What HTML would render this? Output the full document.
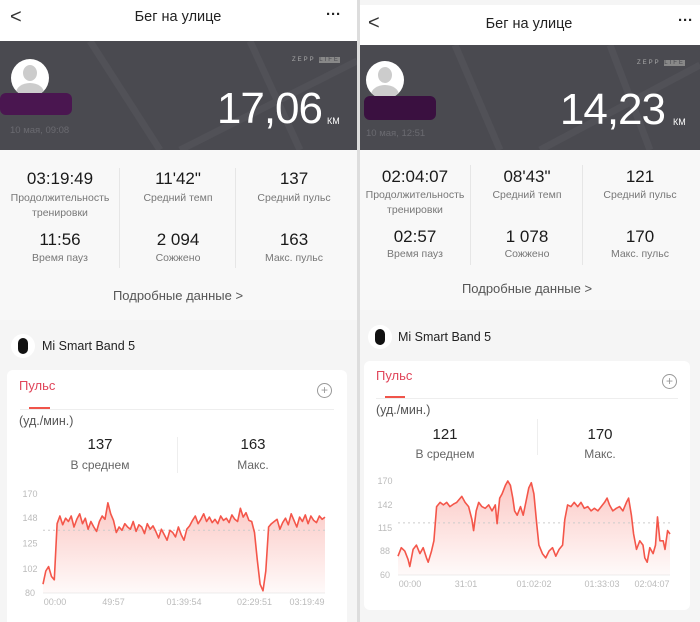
<!DOCTYPE html>
<html><head><meta charset="utf-8">
<style>
*{margin:0;padding:0;box-sizing:border-box}
body{width:700px;height:622px;overflow:hidden;background:#f3f3f3;font-family:"Liberation Sans","DejaVu Sans",sans-serif;position:relative;color:#222}
.abs{position:absolute}
.panel{position:absolute;top:0;height:622px;background:#f5f5f5;overflow:hidden}
.hdr{position:absolute;left:0;right:0;background:#fff}
.c{text-align:center;transform:translateX(-50%);white-space:nowrap}
.val{font-size:17px;color:#1a1a1a}
.lbl{font-size:10.5px;color:#777;line-height:15px}
.banner{position:absolute;left:0;right:0;background:#4a4a50;overflow:hidden}
.card{position:absolute;background:#fff;border-radius:6px}
.zoomb{width:15px;height:15px;border:1.5px solid #999;border-radius:50%;font-size:12px;line-height:12px;text-align:center;color:#999}
</style></head><body>
<div class="panel" style="left:0;width:357px">
  <div class="hdr" style="top:0;height:41px">
    <div class="abs" style="left:10px;top:6px;font-size:20px;color:#333">&lt;</div>
    <div class="abs c" style="left:178px;top:9px;font-size:14.5px">Бег на улице</div>
    <div class="abs" style="left:326px;top:6px;font-size:15px;font-weight:bold">···</div>
  </div>
  <div class="banner" style="top:41px;height:109px">
    <svg class="abs" style="left:0;top:0" width="357" height="109"><g stroke="#515157" stroke-width="7" fill="none"><line x1="90" y1="0" x2="160" y2="109"/><line x1="180" y1="109" x2="357" y2="20"/><line x1="250" y1="0" x2="300" y2="109"/></g></svg>
    <div class="abs" style="left:11px;top:18px;width:38px;height:38px;border-radius:50%;background:#fff;overflow:hidden"><div class="abs" style="left:12px;top:6px;width:14px;height:16px;border-radius:50%;background:#ccc"></div><div class="abs" style="left:5px;top:24px;width:28px;height:20px;border-radius:50%;background:#ccc"></div></div>
    <div class="abs" style="left:0;top:52px;width:72px;height:22px;background:#4a1650;border-radius:6px"></div>
    <div class="abs" style="left:10px;top:84px;font-size:9.5px;color:#6a6a70">10 мая, 09:08</div>
    <div class="abs" style="left:292px;top:16px;font-size:6px;color:#aaa;letter-spacing:2px">ZEPP <span style="background:#888;color:#4a4a50">LIFE</span></div>
    <div class="abs" style="right:35px;top:43px;font-size:44px;color:#fff;letter-spacing:-1px">17,06</div>
    <div class="abs" style="left:327px;top:75px;font-size:9px;color:#fff">КМ</div>
  </div>
  <div class="abs" style="left:0;top:150px;width:357px;height:170px;background:#f8f8f8"></div>
  <div class="abs" style="left:119px;top:168px;width:1px;height:100px;background:#e6e6e6"></div>
  <div class="abs" style="left:235px;top:168px;width:1px;height:100px;background:#e6e6e6"></div>
  <div class="abs c val" style="left:60px;top:169px">03:19:49</div>
  <div class="abs c lbl" style="left:60px;top:191px">Продолжительность<br>тренировки</div>
  <div class="abs c val" style="left:178px;top:169px">11'42"</div>
  <div class="abs c lbl" style="left:178px;top:191px">Средний темп</div>
  <div class="abs c val" style="left:294px;top:169px">137</div>
  <div class="abs c lbl" style="left:294px;top:191px">Средний пульс</div>
  <div class="abs c val" style="left:60px;top:230px">11:56</div>
  <div class="abs c lbl" style="left:60px;top:251px">Время пауз</div>
  <div class="abs c val" style="left:178px;top:230px">2 094</div>
  <div class="abs c lbl" style="left:178px;top:251px">Сожжено</div>
  <div class="abs c val" style="left:294px;top:230px">163</div>
  <div class="abs c lbl" style="left:294px;top:251px">Макс. пульс</div>
  <div class="abs c" style="left:178px;top:288px;font-size:13px;color:#555">Подробные данные &gt;</div>
  <div class="abs" style="left:11px;top:334px;width:24px;height:24px;border-radius:50%;background:#fff"><div class="abs" style="left:7px;top:4px;width:10px;height:16px;border-radius:5px;background:#111"></div></div>
  <div class="abs" style="left:42px;top:339px;font-size:12.5px">Mi Smart Band 5</div>
  <div class="card" style="left:7px;top:370px;width:340px;height:260px">
    <div class="abs" style="left:12px;top:8px;font-size:13px;color:#e0455a">Пульс</div>
    <div class="abs" style="left:13px;top:39px;width:314px;height:1px;background:#eee"></div>
    <div class="abs" style="left:22px;top:37px;width:21px;height:2px;background:#f0544a"></div>
    <div class="abs zoomb" style="left:310px;top:13px">+</div>
    <div class="abs" style="left:12px;top:44px;font-size:12.5px;color:#555">(уд./мин.)</div>
    <div class="abs" style="left:170px;top:67px;width:1px;height:36px;background:#eee"></div>
    <div class="abs c" style="left:93px;top:66px;font-size:15px">137</div>
    <div class="abs c" style="left:93px;top:88px;font-size:12px;color:#666">В среднем</div>
    <div class="abs c" style="left:246px;top:66px;font-size:15px">163</div>
    <div class="abs c" style="left:246px;top:88px;font-size:12px;color:#666">Макс.</div>
  </div>
  <svg id="chartL" class="abs" style="left:0;top:0" width="357" height="622"></svg>
</div>
<div class="abs" style="left:357px;top:0;width:3px;height:622px;background:#ddd"></div>
<div class="panel" style="left:360px;width:340px">
  <div class="hdr" style="top:5px;height:40px">
    <div class="abs" style="left:8px;top:7px;font-size:20px;color:#333">&lt;</div>
    <div class="abs c" style="left:169px;top:11px;font-size:14.5px">Бег на улице</div>
    <div class="abs" style="left:318px;top:7px;font-size:15px;font-weight:bold">···</div>
  </div>
  <div class="banner" style="top:45px;height:105px">
    <svg class="abs" style="left:0;top:0" width="340" height="105"><g stroke="#515157" stroke-width="7" fill="none"><line x1="95" y1="0" x2="140" y2="105"/><line x1="180" y1="105" x2="340" y2="20"/><line x1="250" y1="0" x2="290" y2="105"/></g></svg>
    <div class="abs" style="left:6px;top:16px;width:38px;height:38px;border-radius:50%;background:#fff;overflow:hidden"><div class="abs" style="left:12px;top:6px;width:14px;height:16px;border-radius:50%;background:#ccc"></div><div class="abs" style="left:5px;top:24px;width:28px;height:20px;border-radius:50%;background:#ccc"></div></div>
    <div class="abs" style="left:4px;top:51px;width:72px;height:24px;background:#3a1040;border-radius:6px"></div>
    <div class="abs" style="left:6px;top:83px;font-size:9.5px;color:#6a6a70">10 мая, 12:51</div>
    <div class="abs" style="left:277px;top:15px;font-size:6px;color:#aaa;letter-spacing:2px">ZEPP <span style="background:#888;color:#4a4a50">LIFE</span></div>
    <div class="abs" style="right:35px;top:40px;font-size:44px;color:#fff;letter-spacing:-1px">14,23</div>
    <div class="abs" style="left:313px;top:72px;font-size:9px;color:#fff">КМ</div>
  </div>
  <div class="abs" style="left:0;top:150px;width:340px;height:160px;background:#f8f8f8"></div>
  <div class="abs" style="left:110px;top:165px;width:1px;height:100px;background:#e6e6e6"></div>
  <div class="abs" style="left:222px;top:165px;width:1px;height:100px;background:#e6e6e6"></div>
  <div class="abs c val" style="left:55px;top:167px">02:04:07</div>
  <div class="abs c lbl" style="left:55px;top:188px">Продолжительность<br>тренировки</div>
  <div class="abs c val" style="left:167px;top:167px">08'43"</div>
  <div class="abs c lbl" style="left:167px;top:188px">Средний темп</div>
  <div class="abs c val" style="left:280px;top:167px">121</div>
  <div class="abs c lbl" style="left:280px;top:188px">Средний пульс</div>
  <div class="abs c val" style="left:55px;top:227px">02:57</div>
  <div class="abs c lbl" style="left:55px;top:247px">Время пауз</div>
  <div class="abs c val" style="left:167px;top:227px">1 078</div>
  <div class="abs c lbl" style="left:167px;top:247px">Сожжено</div>
  <div class="abs c val" style="left:280px;top:227px">170</div>
  <div class="abs c lbl" style="left:280px;top:247px">Макс. пульс</div>
  <div class="abs c" style="left:167px;top:281px;font-size:13px;color:#555">Подробные данные &gt;</div>
  <div class="abs" style="left:8px;top:325px;width:24px;height:24px;border-radius:50%;background:#fff"><div class="abs" style="left:7px;top:4px;width:10px;height:16px;border-radius:5px;background:#111"></div></div>
  <div class="abs" style="left:38px;top:330px;font-size:12.5px">Mi Smart Band 5</div>
  <div class="card" style="left:4px;top:361px;width:326px;height:249px">
    <div class="abs" style="left:12px;top:7px;font-size:13px;color:#e0455a">Пульс</div>
    <div class="abs" style="left:12px;top:37px;width:302px;height:1px;background:#eee"></div>
    <div class="abs" style="left:21px;top:35px;width:20px;height:2px;background:#f0544a"></div>
    <div class="abs zoomb" style="left:298px;top:13px">+</div>
    <div class="abs" style="left:12px;top:42px;font-size:12.5px;color:#555">(уд./мин.)</div>
    <div class="abs" style="left:173px;top:58px;width:1px;height:36px;background:#eee"></div>
    <div class="abs c" style="left:81px;top:65px;font-size:15px">121</div>
    <div class="abs c" style="left:81px;top:86px;font-size:12px;color:#666">В среднем</div>
    <div class="abs c" style="left:236px;top:65px;font-size:15px">170</div>
    <div class="abs c" style="left:236px;top:86px;font-size:12px;color:#666">Макс.</div>
  </div>
  <svg id="chartR" class="abs" style="left:0;top:0" width="340" height="622"></svg>
</div>
<script>
// Left chart data (evenly spaced samples over the workout)
const leftValues = [88,100,104,95,92,143,150,142,148,145,150,140,147,152,143,148,138,145,140,136,145,150,147,162,152,146,135,140,137,143,140,138,145,136,142,140,134,143,138,141,136,130,138,133,128,137,135,131,140,133,128,138,141,146,150,143,147,152,145,149,144,147,143,150,146,148,144,151,147,145,157,149,153,146,145,135,110,88,82,100,140,143,145,147,138,144,148,142,152,146,140,149,145,151,143,150,146,144,150,147,149];
const leftYTicks = [80,102,125,148,170];
const leftXTickLabels = ["00:00","49:57","01:39:54","02:29:51","03:19:49"];
const leftAvg = 137;
// Right chart data (minute, bpm)
const rightTimes = [0,1.5,3.1,4.6,5.4,6.9,8.4,10.0,11.5,13.0,13.8,15.3,16.4,17.6,19.2,20.7,22.2,23.7,25.3,26.8,29.1,30.6,32.2,33.7,34.5,35.7,36.8,38.3,39.8,41.4,42.9,44.4,45.2,46.4,47.5,49.0,50.1,51.3,52.4,53.2,54.4,55.9,57.1,58.7,59.7,60.8,62.0,63.3,64.3,65.9,67.4,68.9,70.5,72.0,73.5,75.1,76.1,77.4,78.9,80.4,82.0,83.5,85.0,86.6,88.1,89.6,91.2,92.7,94.2,95.4,96.5,98.0,99.6,101.1,102.6,104.2,105.2,106.5,107.5,108.8,110.3,111.8,112.6,113.7,114.9,116.4,117.5,118.4,119.5,121.0,121.8,123.0,124.1];
const rightValues = [82,92,88,78,70,90,95,85,92,80,75,88,100,140,145,142,145,140,143,145,152,145,140,125,112,135,145,140,138,142,135,142,120,150,155,165,170,165,150,135,130,140,130,150,162,168,155,120,95,85,80,88,92,82,90,95,125,142,140,145,140,145,138,140,135,138,135,140,145,150,142,135,138,140,135,145,150,130,108,90,100,95,80,75,92,85,95,128,100,100,90,112,108];
const rightYTicks = [60,88,115,142,170];
const rightXTickLabels = ["00:00","31:01","01:02:02","01:33:03","02:04:07"];
const rightAvg = 121;

const NS="http://www.w3.org/2000/svg";
function mk(svg,tag,attrs){const e=document.createElementNS(NS,tag);for(const k in attrs)e.setAttribute(k,attrs[k]);svg.appendChild(e);return e;}
function draw(svg,cfg,times,vals,yTicks,xLabels,avg){
  const x0=cfg.x0,x1=cfg.x1,yTop=cfg.yTop,yBot=cfg.yBot;
  const vmin=yTicks[0],vmax=yTicks[yTicks.length-1];
  const tmax=times[times.length-1];
  const X=t=>x0+(t/tmax)*(x1-x0);
  const Y=v=>yBot-(v-vmin)/(vmax-vmin)*(yBot-yTop);
  const defs=mk(svg,'defs',{});
  const g=document.createElementNS(NS,'linearGradient');g.setAttribute('id',cfg.id+'g');g.setAttribute('x1','0');g.setAttribute('y1','0');g.setAttribute('x2','0');g.setAttribute('y2','1');defs.appendChild(g);
  mk(g,'stop',{offset:'0','stop-color':'#f4564a','stop-opacity':'0.32'});
  mk(g,'stop',{offset:'1','stop-color':'#f4564a','stop-opacity':'0.03'});
  const bl=mk(svg,'line',{x1:x0,x2:x1,y1:yBot,y2:yBot,stroke:'#eee'});
  
  
  yTicks.forEach(v=>{
    const t=mk(svg,'text',{x:cfg.yLabelX,y:Y(v)+3,'font-size':'9','fill':'#bbb','text-anchor':'middle','font-family':'Liberation Sans, sans-serif'});
    t.textContent=v;
    
    
  });
  xLabels.forEach((lab,i)=>{
    const t=mk(svg,'text',{x:X(tmax*i/(xLabels.length-1))+(i==0?12:i==xLabels.length-1?-18:0),y:yBot+12,'font-size':'9','fill':'#bbb','text-anchor':'middle','font-family':'Liberation Sans, sans-serif'});
    t.textContent=lab;
    
    
  });
  let d='';vals.forEach((v,i)=>{d+=(i?'L':'M')+X(times[i]).toFixed(1)+','+Y(v).toFixed(1);});
  const area=mk(svg,'path',{d:d+'L'+X(tmax)+','+yBot+'L'+x0+','+yBot+'Z',fill:'url(#'+cfg.id+'g)'});
  
  
  const al=mk(svg,'line',{x1:x0,x2:x1,y1:Y(avg),y2:Y(avg),stroke:'#ccc','stroke-dasharray':'2,3'});
  
  
  const ln=mk(svg,'path',{d:d,fill:'none',stroke:'#f4564a','stroke-width':'1.6','stroke-linejoin':'round'});
  
  
}
const leftTimes = leftValues.map((v,i)=>i);
draw(document.getElementById('chartL'),{id:'L',x0:43,x1:325,yTop:494,yBot:593,yLabelX:30},leftTimes,leftValues,leftYTicks,leftXTickLabels,leftAvg);
draw(document.getElementById('chartR'),{id:'R',x0:38,x1:310,yTop:481,yBot:575,yLabelX:25},rightTimes,rightValues,rightYTicks,rightXTickLabels,rightAvg);
</script>
</body></html>
